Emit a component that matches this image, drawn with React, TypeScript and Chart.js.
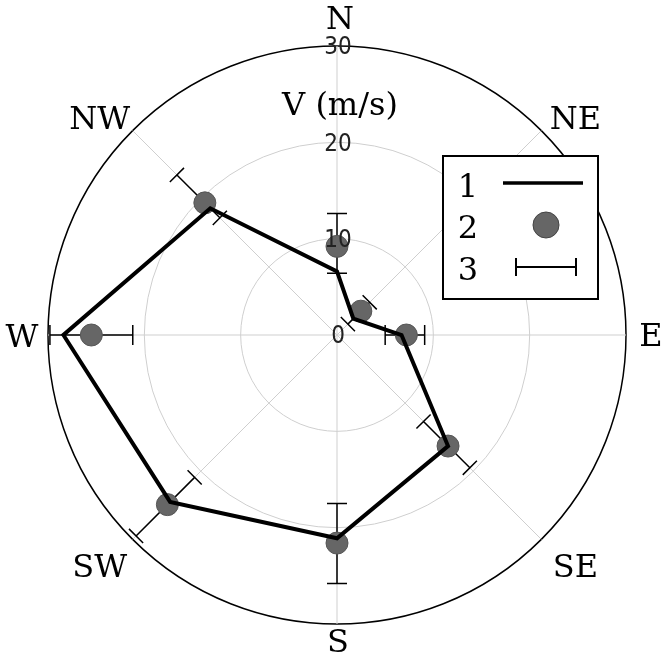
import React, { useEffect, useRef } from "react";
import { Chart, registerables } from "chart.js";

Chart.register(...registerables);

// Directions (clockwise from North)
const directions = ["N", "NE", "E", "SE", "S", "SW", "W", "NW"];
// Series 1: line (m/s)
const lineValues = [6.6, 2.4, 6.7, 16.3, 21.1, 24.5, 28.4, 18.6];
// Series 2: points (m/s)
const pointValues = [9.2, 3.5, 7.2, 16.3, 21.6, 24.9, 25.5, 19.4];
// Series 3: error bars (low / high)
const errLow = [6.4, 1.6, 5.0, 12.7, 17.5, 20.9, 21.2, 17.2];
const errHigh = [12.6, 4.8, 9.1, 19.5, 25.8, 29.5, 29.8, 23.5];
// Radial tick labels
const tickValues = [0, 10, 20, 30];
const axisTitle = "V (m/s)";
const legendLabels = ["1", "2", "3"];

const SERIF = "'DejaVu Serif', 'Liberation Serif', serif";
const NARROW = "'Liberation Sans Narrow', 'DejaVu Sans Condensed', sans-serif";

// label offsets relative to the point on the outer circle (style only)
const labelOffsets: Record<string, [number, number]> = {
  N: [3, -29],
  NE: [34, -13],
  E: [25, -1],
  SE: [34, 26],
  S: [1, 16],
  SW: [-33, 26],
  W: [-26, 0],
  NW: [-33, -13],
};

const customPlugin = {
  id: "customDraw",
  beforeDatasetsDraw(chart: any) {
    const ctx = chart.ctx;
    const scale = chart.scales.r;
    ctx.save();
    ctx.strokeStyle = "#000";
    ctx.lineWidth = 1.5;
    const cap = 10;
    for (let i = 0; i < directions.length; i++) {
      const a = scale.getPointPositionForValue(i, errLow[i]);
      const b = scale.getPointPositionForValue(i, errHigh[i]);
      const ang = a.angle;
      const px = -Math.sin(ang);
      const py = Math.cos(ang);
      ctx.beginPath();
      ctx.moveTo(a.x, a.y);
      ctx.lineTo(b.x, b.y);
      ctx.moveTo(a.x - px * cap, a.y - py * cap);
      ctx.lineTo(a.x + px * cap, a.y + py * cap);
      ctx.moveTo(b.x - px * cap, b.y - py * cap);
      ctx.lineTo(b.x + px * cap, b.y + py * cap);
      ctx.stroke();
    }
    ctx.restore();
  },
  afterDatasetsDraw(chart: any) {
    const ctx = chart.ctx;
    const scale = chart.scales.r;
    ctx.save();

    // tick labels along the N axis
    ctx.font = `24px ${NARROW}`;
    ctx.fillStyle = "#222";
    ctx.textAlign = "center";
    ctx.textBaseline = "middle";
    for (const v of tickValues) {
      const p = scale.getPointPositionForValue(0, v);
      ctx.fillText(String(v), p.x + 1, p.y + 2);
    }

    // axis title
    ctx.font = `32px ${SERIF}`;
    ctx.fillStyle = "#000";
    ctx.textBaseline = "alphabetic";
    const capH = ctx.measureText("N").actualBoundingBoxAscent;
    const tp = scale.getPointPositionForValue(0, 24);
    ctx.fillText(axisTitle, tp.x + 3, tp.y + capH / 2);

    // direction labels
    for (let i = 0; i < directions.length; i++) {
      const p = scale.getPointPosition(i, scale.drawingArea);
      const off = labelOffsets[directions[i]];
      ctx.fillText(directions[i], p.x + off[0], p.y + off[1] + capH / 2);
    }

    // legend box
    const bx = 443, by = 156, bw = 155, bh = 143;
    ctx.fillStyle = "#fff";
    ctx.fillRect(bx, by, bw, bh);
    ctx.strokeStyle = "#000";
    ctx.lineWidth = 2;
    ctx.strokeRect(bx, by, bw, bh);

    ctx.fillStyle = "#000";
    ctx.textAlign = "center";
    const rows = [185, 226, 268];
    legendLabels.forEach((t, k) => {
      ctx.fillText(t, bx + 25, rows[k] + capH / 2);
    });
    // 1: line
    ctx.lineWidth = 3.5;
    ctx.beginPath();
    ctx.moveTo(503, rows[0] - 2);
    ctx.lineTo(583, rows[0] - 2);
    ctx.stroke();
    // 2: marker
    ctx.beginPath();
    ctx.arc(546, rows[1] - 1, 13, 0, Math.PI * 2);
    ctx.fillStyle = "#666";
    ctx.fill();
    ctx.lineWidth = 1;
    ctx.strokeStyle = "#444";
    ctx.stroke();
    // 3: error bar
    ctx.strokeStyle = "#000";
    ctx.lineWidth = 2;
    ctx.beginPath();
    ctx.moveTo(516, rows[2] - 1);
    ctx.lineTo(576, rows[2] - 1);
    ctx.moveTo(516, rows[2] - 10);
    ctx.lineTo(516, rows[2] + 8);
    ctx.moveTo(576, rows[2] - 10);
    ctx.lineTo(576, rows[2] + 8);
    ctx.stroke();

    ctx.restore();
  },
};

export default function App() {
  const canvasRef = useRef<HTMLCanvasElement | null>(null);

  useEffect(() => {
    const canvas = canvasRef.current;
    if (!canvas) return;
    const chart = new Chart(canvas, {
      type: "radar",
      data: {
        labels: directions,
        datasets: [
          {
            label: "1",
            data: lineValues,
            borderColor: "#000",
            borderWidth: 4,
            backgroundColor: "transparent",
            fill: false,
            pointRadius: 0,
            tension: 0,
          },
          {
            label: "2",
            data: pointValues,
            showLine: false,
            borderColor: "#555",
            backgroundColor: "#666",
            pointBackgroundColor: "#666",
            pointBorderColor: "#555",
            pointBorderWidth: 1,
            pointRadius: 11,
            fill: false,
          },
        ],
      },
      options: {
        animation: false,
        responsive: false,
        maintainAspectRatio: false,
        devicePixelRatio: 1,
        layout: { padding: { left: 48, right: 36, top: 46, bottom: 39 } },
        plugins: {
          legend: { display: false },
          tooltip: { enabled: false },
        },
        scales: {
          r: {
            min: 0,
            max: 30,
            ticks: { display: false, stepSize: 10 },
            pointLabels: { display: false },
            grid: {
              circular: true,
              color: (c: any) => (c.tick && c.tick.value === 30 ? "#000" : "#cfcfcf"),
              lineWidth: (c: any) => (c.tick && c.tick.value === 30 ? 1.5 : 1),
            },
            angleLines: { color: "#cfcfcf", lineWidth: 1 },
          },
        },
      },
      plugins: [customPlugin],
    } as any);
    return () => chart.destroy();
  }, []);

  return (
    <div style={{ position: "fixed", left: 0, top: 0, width: 662, height: 663, background: "#fff" }}>
      <canvas ref={canvasRef} width={662} height={663} style={{ display: "block" }} />
    </div>
  );
}
